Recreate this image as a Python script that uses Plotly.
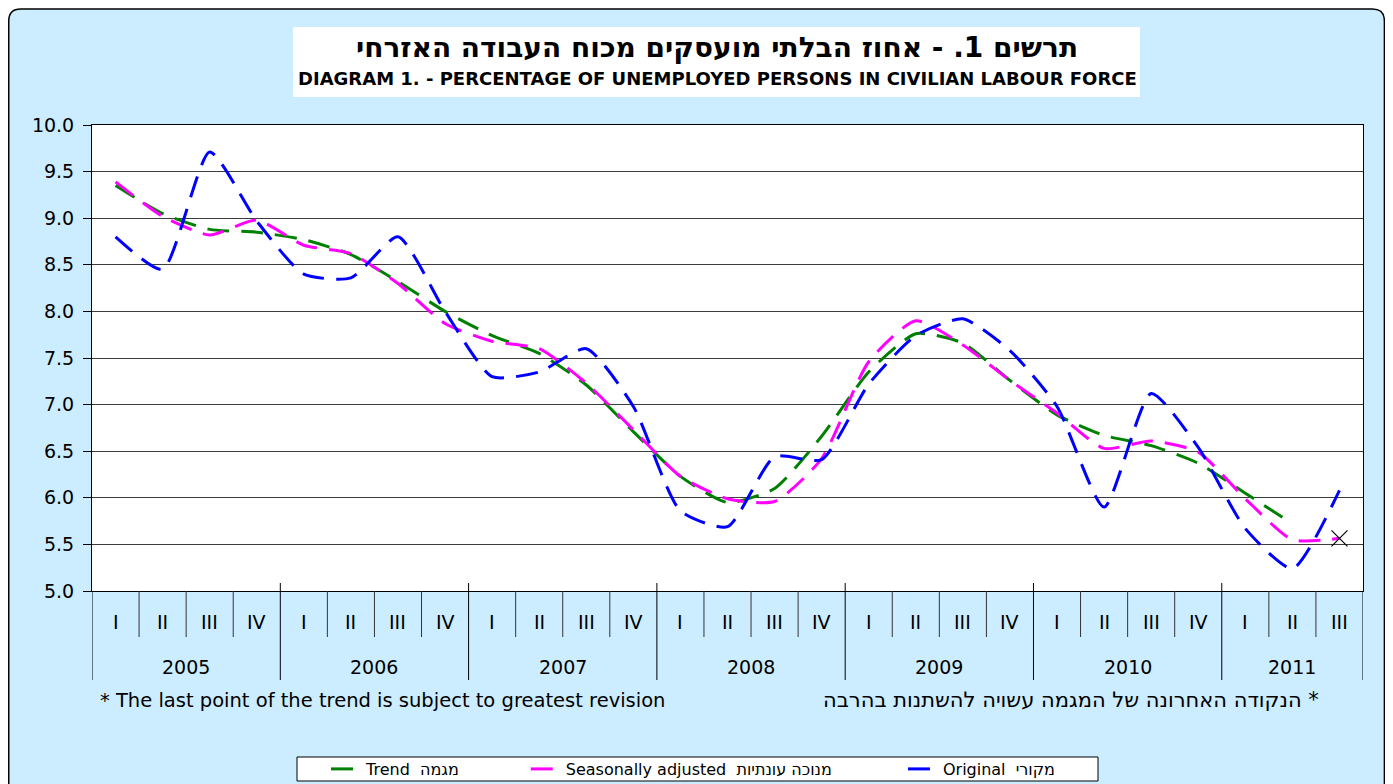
import plotly.graph_objects as go

# ---------------- data ----------------
years = ["2005", "2006", "2007", "2008", "2009", "2010", "2011"]
quarters_per_year = [4, 4, 4, 4, 4, 4, 3]
quarter_labels = ["I", "II", "III", "IV",
                  "I", "II", "III", "IV",
                  "I", "II", "III", "IV",
                  "I", "II", "III", "IV",
                  "I", "II", "III", "IV",
                  "I", "II", "III", "IV",
                  "I", "II", "III"]

original = [8.80, 8.45, 9.71, 8.97, 8.40, 8.36, 8.80, 8.00,
            7.30, 7.35, 7.60, 6.98, 5.86, 5.69, 6.44, 6.41,
            7.22, 7.74, 7.92, 7.58, 6.98, 5.90, 7.12, 6.54,
            5.67, 5.24, 6.08]
seasonally_adjusted = [9.39, 9.02, 8.82, 8.98, 8.71, 8.62, 8.30, 7.87,
                       7.68, 7.60, 7.23, 6.73, 6.23, 5.99, 5.96, 6.42,
                       7.46, 7.90, 7.64, 7.26, 6.91, 6.53, 6.61, 6.49,
                       5.99, 5.55, 5.565]
trend = [9.35, 9.05, 8.88, 8.85, 8.77, 8.61, 8.32, 8.00,
         7.74, 7.55, 7.21, 6.71, 6.23, 5.95, 6.10, 6.66,
         7.35, 7.76, 7.66, 7.26, 6.89, 6.67, 6.56, 6.37,
         6.05, 5.72, None]

y_ticks = [5.0, 5.5, 6.0, 6.5, 7.0, 7.5, 8.0, 8.5, 9.0, 9.5, 10.0]

title_he = "תרשים 1. - אחוז הבלתי מועסקים מכוח העבודה האזרחי"
title_en = "DIAGRAM 1. - PERCENTAGE OF UNEMPLOYED PERSONS IN CIVILIAN LABOUR FORCE"
note_en = "* The last point of the trend is subject to greatest revision"
note_he = "\u200f* הנקודה האחרונה של המגמה עשויה להשתנות בהרבה"
name_trend = "Trend  מגמה"
name_sa = "Seasonally adjusted  מנוכה עונתיות"
name_orig = "Original  מקורי"

# ---------------- layout constants ----------------
# page is shown with an 8px body margin; positions below are page pixels
OFF = 8
W, H = 1393 - OFF, 784 - OFF
P_L, P_T, P_R, P_B = 92, 125, 1363, 591
L, T = P_L - OFF, P_T - OFF
R, B = W - (P_R - OFF), H - (P_B - OFF)
PW, PH = P_R - P_L, P_B - P_T
BG = "#CCECFF"
FONT = "DejaVu Sans"


def px_x(p):
    return (p - P_L) / PW


def px_y(p):
    return (P_B - p) / PH


n = len(quarter_labels)
xs = list(range(n))

fig = go.Figure()
dash = "22px,12px"
fig.add_trace(go.Scatter(x=xs, y=trend, mode="lines", name=name_trend + "\u00a0" * 12,
                         line=dict(color="#008000", width=3, dash=dash, shape="spline", smoothing=0.6)))
fig.add_trace(go.Scatter(x=xs, y=seasonally_adjusted, mode="lines", name=name_sa + "\u00a0" * 13,
                         line=dict(color="#FF00FF", width=3, dash=dash, shape="spline", smoothing=0.6)))
fig.add_trace(go.Scatter(x=xs, y=original, mode="lines", name=name_orig,
                         line=dict(color="#0000FF", width=3, dash=dash, shape="spline", smoothing=0.6)))
fig.add_trace(go.Scatter(x=[xs[-1]], y=[seasonally_adjusted[-1]], mode="markers", showlegend=False,
                         marker=dict(symbol="x-thin", size=16, line=dict(color="#000000", width=1.2))))

shapes = []
# outer rounded panel
x0, x1 = px_x(8.75), px_x(1384.4)
yT, yB = px_y(9), px_y(800)
rx, ry = 12 / PW, 12 / PH
path = (f"M {x0+rx},{yT} L {x1-rx},{yT} Q {x1},{yT} {x1},{yT-ry} L {x1},{yB+ry} "
        f"Q {x1},{yB} {x1-rx},{yB} L {x0+rx},{yB} Q {x0},{yB} {x0},{yB+ry} "
        f"L {x0},{yT-ry} Q {x0},{yT} {x0+rx},{yT} Z")
shapes.append(dict(type="path", xref="paper", yref="paper", path=path, fillcolor=BG,
                   line=dict(color="#000000", width=1.5), layer="below"))
# plot area white
shapes.append(dict(type="rect", xref="paper", yref="paper", x0=0, x1=1, y0=0, y1=1,
                   fillcolor="white", line=dict(width=0), layer="below"))
# title box
shapes.append(dict(type="rect", xref="paper", yref="paper", x0=px_x(293), x1=px_x(1140),
                   y0=px_y(97), y1=px_y(27), fillcolor="white", line=dict(width=0), layer="below"))
# legend box
shapes.append(dict(type="rect", xref="paper", yref="paper", x0=px_x(297), x1=px_x(1098),
                   y0=px_y(781), y1=px_y(757), fillcolor="white",
                   line=dict(color="#000000", width=1), layer="below"))

# category dividers
year_bounds = [0]
for c in quarters_per_year:
    year_bounds.append(year_bounds[-1] + c)
for i in range(n + 1):
    is_year = i in year_bounds
    shapes.append(dict(type="line", xref="x", yref="paper", x0=i - 0.5, x1=i - 0.5,
                       y0=px_y(583) if is_year and 0 < i < n else 0,
                       y1=px_y(680) if is_year else px_y(637),
                       line=dict(color="#000000" if is_year else "#333333", width=1)))

annotations = []
for i, q in enumerate(quarter_labels):
    annotations.append(dict(x=i, y=px_y(622), xref="x", yref="paper", text=q, showarrow=False,
                            font=dict(family=FONT, size=19, color="black"), yanchor="middle"))
for k, yr in enumerate(years):
    cx = (year_bounds[k] + year_bounds[k + 1] - 1) / 2
    annotations.append(dict(x=cx, y=px_y(667), xref="x", yref="paper", text=yr, showarrow=False,
                            font=dict(family=FONT, size=19, color="black"), yanchor="middle"))
annotations.append(dict(x=px_x(98), y=px_y(700), xref="paper", yref="paper", text=note_en,
                        showarrow=False, xanchor="left", yanchor="middle",
                        font=dict(family=FONT, size=19.5, color="black")))
annotations.append(dict(x=px_x(1321), y=px_y(700), xref="paper", yref="paper", text=note_he,
                        showarrow=False, xanchor="right", yanchor="middle",
                        font=dict(family=FONT, size=21, color="black")))
annotations.append(dict(x=px_x(717), y=px_y(78), xref="paper", yref="paper",
                        text="<b>" + title_en + "</b>", showarrow=False, xanchor="center", yanchor="middle",
                        font=dict(family=FONT, size=18, color="black")))

fig.update_layout(
    width=W, height=H,
    margin=dict(l=L, r=R, t=T, b=B, autoexpand=False),
    paper_bgcolor="white", plot_bgcolor="white",
    title=dict(text="<b>" + title_he + "</b>", x=px_x(717), xref="paper", xanchor="center",
               y=1 - (47 - OFF) / H, yref="container", yanchor="middle",
               font=dict(family=FONT, size=28, color="black")),
    xaxis=dict(range=[-0.5, n - 0.5], showticklabels=False, showgrid=False, zeroline=False,
               ticks="", showline=True, linecolor="#000000", linewidth=1, mirror=True),
    yaxis=dict(range=[5, 10], tickvals=y_ticks, tickformat=".1f", showgrid=True,
               gridcolor="#3c3c3c", gridwidth=1, zeroline=False, ticks="outside", ticklen=8,
               tickcolor="#000000", showline=True, linecolor="#000000", linewidth=1, mirror=True,
               ticklabelstandoff=5,
               tickfont=dict(family=FONT, size=19, color="black")),
    showlegend=True,
    legend=dict(orientation="h", x=px_x(326), xanchor="left", y=px_y(769), yanchor="middle",
                bgcolor="rgba(0,0,0,0)", borderwidth=0, font=dict(family=FONT, size=16, color="black"),
                itemwidth=30),
    shapes=shapes,
    annotations=annotations,
    font=dict(family=FONT, color="black"),
)

fig.write_html("out.html")
